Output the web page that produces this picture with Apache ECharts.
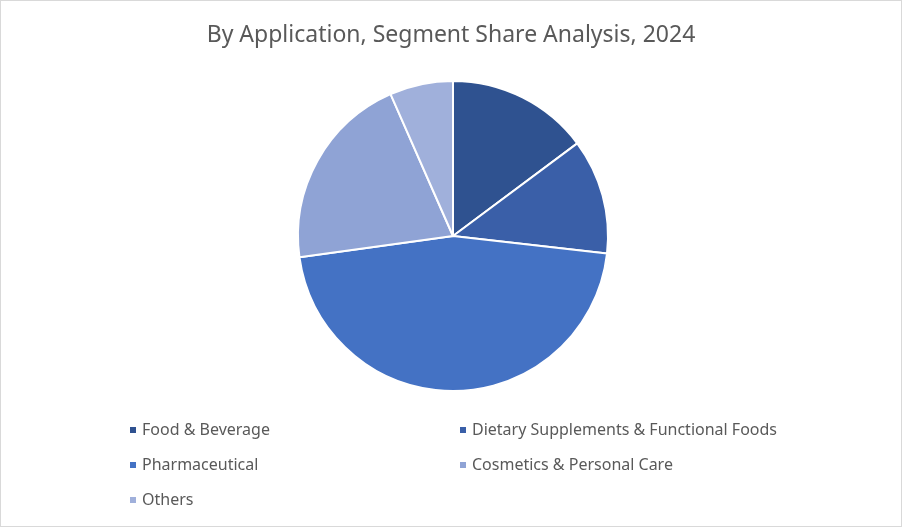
<!DOCTYPE html>
<html>
<head>
<meta charset="utf-8">
<script src="https://cdn.jsdelivr.net/npm/echarts@6/dist/echarts.min.js"></script>
<style>
  html, body { margin: 0; padding: 0; background: #fff; }
  #chart { width: 900px; height: 525px; border: 1px solid #d9d9d9; }
</style>
</head>
<body>
<div id="chart"></div>
<script>
var categories = ['Food & Beverage', 'Dietary Supplements & Functional Foods', 'Pharmaceutical', 'Cosmetics & Personal Care', 'Others'];
var shares = [14.8, 12.0, 46.0, 20.6, 6.6];
var colors = ['#2F5290', '#3A5FA8', '#4472C4', '#8FA3D5', '#A0B0DB'];

var legendBase = {
    icon: 'rect', itemWidth: 8, itemHeight: 8, itemGap: 0,
    textStyle: { fontSize: 16, color: '#595959', fontFamily: 'Noto Sans' }
};
function legendAt(names, left, top) {
    return Object.assign({}, legendBase, { data: names, left: left, top: top, orient: 'vertical' });
}

var chart = echarts.init(document.getElementById('chart'));
chart.setOption({
    color: colors,
    title: {
        text: 'By Application, Segment Share Analysis, 2024',
        left: 'center', top: 18,
        textStyle: { fontSize: 23, fontWeight: 'normal', color: '#595959', fontFamily: 'Noto Sans' }
    },
    legend: [
        legendAt([categories[0]], 122, 416),
        legendAt([categories[1]], 452, 416),
        legendAt([categories[2]], 122, 451),
        legendAt([categories[3]], 452, 451),
        legendAt([categories[4]], 122, 486)
    ],
    series: [{
        type: 'pie',
        center: [452, 235],
        radius: 155,
        startAngle: 90,
        clockwise: true,
        label: { show: false },
        labelLine: { show: false },
        itemStyle: { borderColor: '#fff', borderWidth: 2 },
        data: categories.map(function (c, i) { return { name: c, value: shares[i] }; })
    }]
});
</script>
</body>
</html>
